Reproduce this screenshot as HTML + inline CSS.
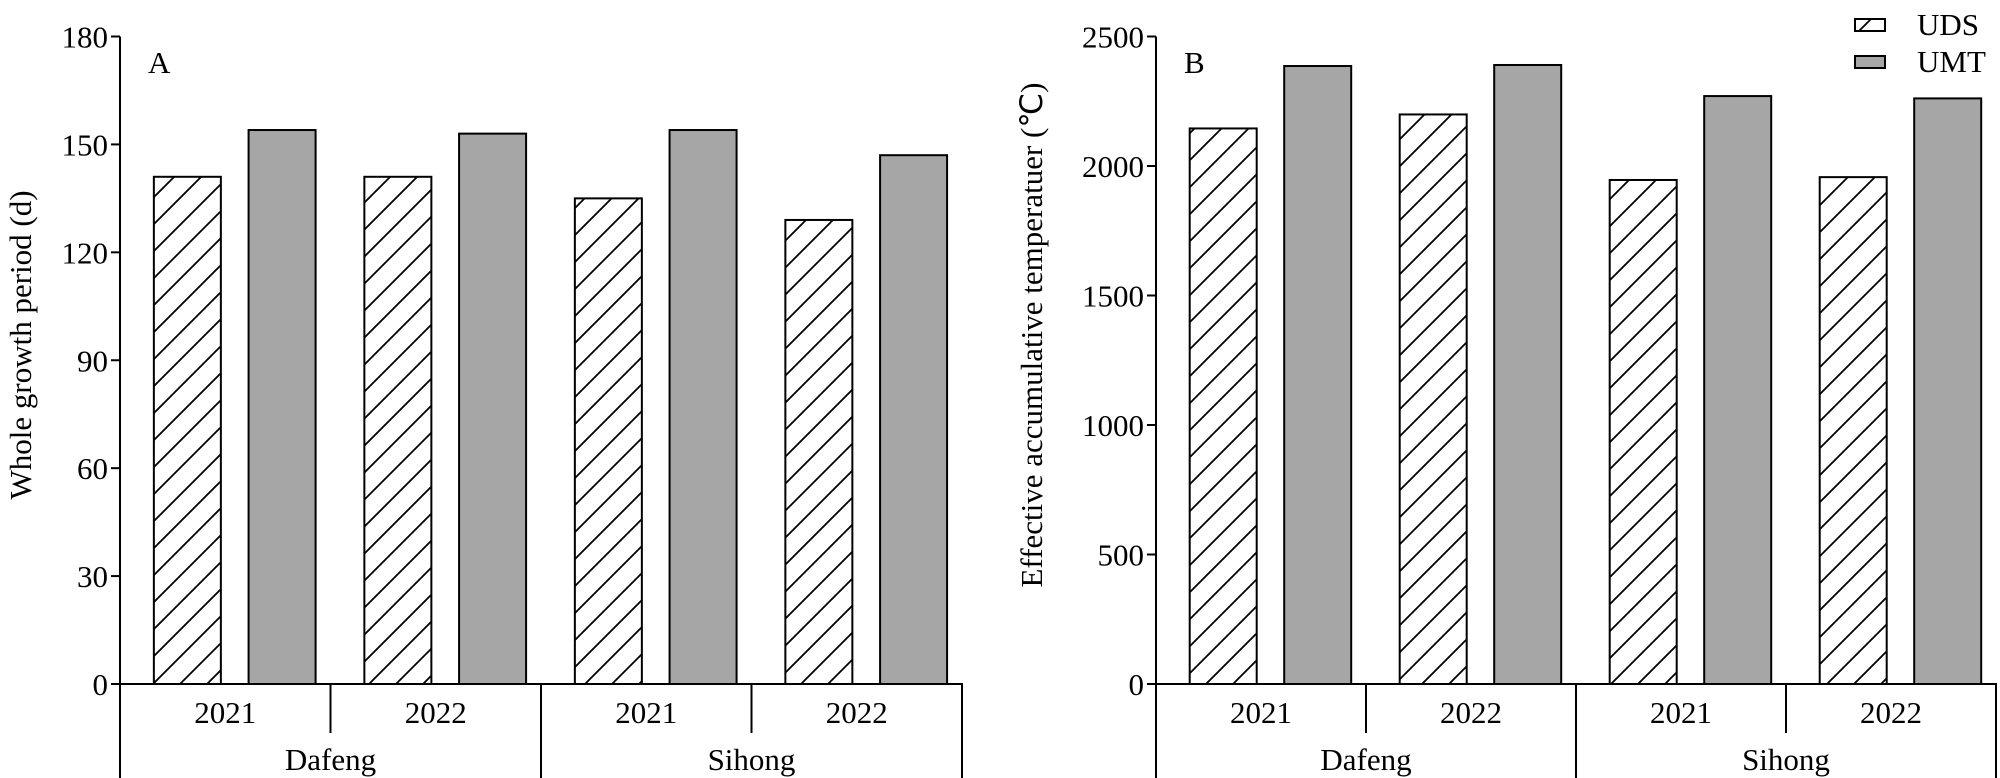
<!DOCTYPE html>
<html><head><meta charset="utf-8"><style>
html,body{margin:0;padding:0;background:#fff;}
svg{display:block;font-family:"Liberation Serif",serif;}
</style></head><body>
<svg id="chart" width="2000" height="778" viewBox="0 0 2000 778">
<defs>
<pattern id="hatch" patternUnits="userSpaceOnUse" width="27" height="27">
<path d="M0,27 L27,0 M-6,6 L6,-6 M21,33 L33,21" stroke="#000" stroke-width="1.8" fill="none"/>
</pattern>
</defs>
<g id="panelA"></g>
<g id="panelB"></g>
<g>
<rect x="1855" y="19" width="30" height="12" fill="url(#hatch)" stroke="#000" stroke-width="2"/>
<text x="1917" y="35" font-size="31">UDS</text>
<rect x="1855" y="56" width="30" height="12" fill="#a6a6a6" stroke="#000" stroke-width="2"/>
<text x="1917" y="72" font-size="31">UMT</text>
</g>
</svg>
<script>
const years = ["2021","2022","2021","2022"];
const sites = ["Dafeng","Sihong"];
const udsA = [141,141,135,129];
const umtA = [154,153,154,147];
const ticksA = [0,30,60,90,120,150,180];
const udsB = [2145,2199,1946,1957];
const umtB = [2386,2390,2270,2261];
const ticksB = [0,500,1000,1500,2000,2500];
const NS="http://www.w3.org/2000/svg";
function mk(parent,tag,attrs){const e=document.createElementNS(NS,tag);for(const k in attrs)e.setAttribute(k,attrs[k]);parent.appendChild(e);return e;}
function panel(gid,ax,right,yMax,ticks,uds,umt,label,title,titleX,yDiv,prefix){
  const g=document.getElementById(gid);
  const y0=684, yTop=36.5;
  const y=v=>y0-(v/yMax)*(y0-yTop);
  const groupW=(right-ax)/4;
  const barW=67;
  // bars
  for(let i=0;i<4;i++){
    const gx=ax+groupW*i;
    const cx1=gx+groupW*0.32, cx2=gx+groupW*0.77;
    let r=mk(g,'rect',{x:cx1-barW/2,y:y(uds[i]),width:barW,height:y0-y(uds[i]),fill:'url(#hatch)',stroke:'#000','stroke-width':2});
    
    
    r=mk(g,'rect',{x:cx2-barW/2,y:y(umt[i]),width:barW,height:y0-y(umt[i]),fill:'#a6a6a6',stroke:'#000','stroke-width':2});
    
    
    const t=mk(g,'text',{x:gx+groupW/2,y:723,'font-size':31,'text-anchor':'middle'});
    t.textContent=years[i];
    
    
  }
  // axes
  let a=mk(g,'path',{d:`M${ax},${yTop} L${ax},778 M${ax},${y0} L${right},${y0} L${right},778 M${(ax+right)/2},${y0} L${(ax+right)/2},778 M${ax+groupW},${y0} L${ax+groupW},733 M${ax+groupW*3},${y0} L${ax+groupW*3},733`,stroke:'#000','stroke-width':2,fill:'none'});
  
  
  for(let i=0;i<2;i++){
    const t=mk(g,'text',{x:ax+groupW*(2*i+1),y:770,'font-size':31,'text-anchor':'middle'});
    t.textContent=sites[i];
    
    
  }
  ticks.forEach(v=>{
    const l=mk(g,'line',{x1:ax-9,x2:ax,y1:y(v),y2:y(v),stroke:'#000','stroke-width':2});
    
    
    const t=mk(g,'text',{x:ax-12,y:y(v)+11,'font-size':31,'text-anchor':'end'});
    t.textContent=v;
    
    
  });
  let t=mk(g,'text',{x:ax+28,y:73,'font-size':31});
  t.textContent=label;
  
  
  t=mk(g,'text',{x:0,y:0,'font-size':31,'text-anchor':'middle',transform:`translate(${titleX},${yDiv}) rotate(-90)`});
  t.textContent=title;
  
  
}
panel('panelA',120,962,180,ticksA,udsA,umtA,'A','Whole growth period (d)',31,345,'a');
panel('panelB',1156,1996,2500,ticksB,udsB,umtB,'B','Effective accumulative temperatuer (℃)',1042,335,'b');
</script>
</body></html>
